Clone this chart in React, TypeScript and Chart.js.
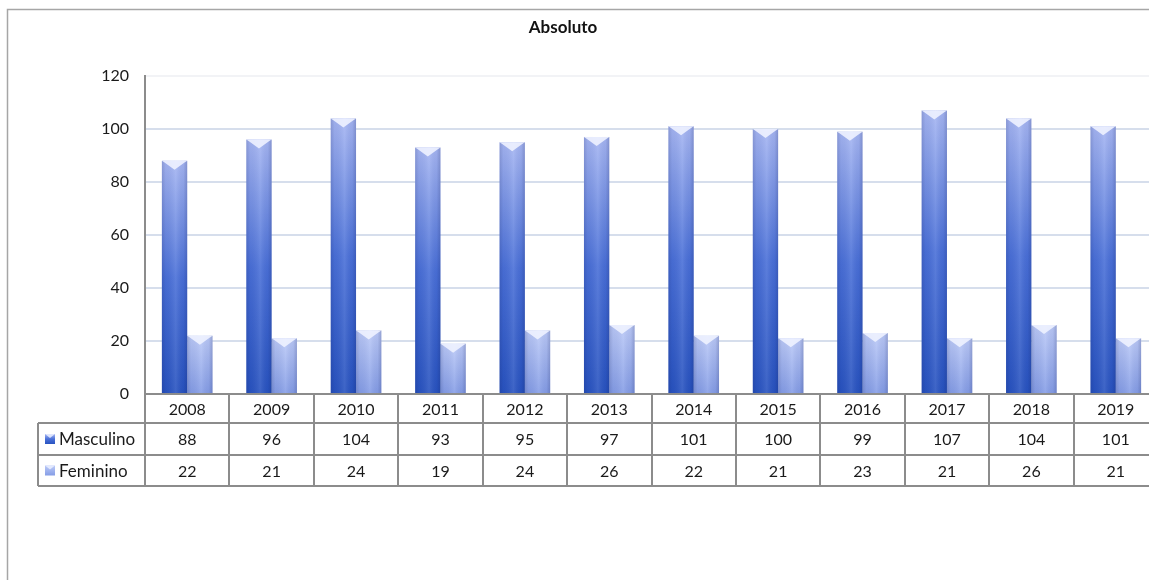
import React, { useEffect, useRef } from "react";
import { Chart, registerables } from "chart.js";

Chart.register(...registerables);

const years = ["2008", "2009", "2010", "2011", "2012", "2013", "2014", "2015", "2016", "2017", "2018", "2019"];
const masculino = [88, 96, 104, 93, 95, 97, 101, 100, 99, 107, 104, 101];
const feminino = [22, 21, 24, 19, 24, 26, 22, 21, 23, 21, 26, 21];
const seriesNames = ["Masculino", "Feminino"];
const title = "Absoluto";

const FONT = "Lato, 'Open Sans', sans-serif";
const W = 1165;
const H = 580;

function barGradient(c: any, stops: [number, string][], fallback: string) {
  const chart = c.chart;
  const { ctx, chartArea, scales } = chart;
  if (!chartArea || c.raw === undefined) return fallback;
  const yTop = scales.y.getPixelForValue(c.raw);
  const yBot = scales.y.getPixelForValue(0);
  if (!isFinite(yTop) || !isFinite(yBot) || yTop === yBot) return fallback;
  const g = ctx.createLinearGradient(0, yBot, 0, yTop);
  stops.forEach(([o, col]) => g.addColorStop(o, col));
  return g;
}

const mascStops: [number, string][] = [
  [0, "#2853c0"],
  [0.5, "#4a70d8"],
  [1, "#a6b6f2"],
];
const femStops: [number, string][] = [
  [0, "#859de6"],
  [1, "#bccaf7"],
];

const decorPlugin = {
  id: "decor",
  afterDatasetsDraw(chart: any) {
    const ctx = chart.ctx;
    chart.data.datasets.forEach((_: any, di: number) => {
      const meta = chart.getDatasetMeta(di);
      meta.data.forEach((bar: any) => {
        const p = bar.getProps(["x", "y", "base", "width"], true);
        const l = p.x - p.width / 2;
        const r = p.x + p.width / 2;
        const t = p.y;
        const b = p.base;
        ctx.save();
        const hg = ctx.createLinearGradient(l, 0, r, 0);
        hg.addColorStop(0, "rgba(10,20,80,0.18)");
        hg.addColorStop(0.15, "rgba(10,20,80,0.05)");
        hg.addColorStop(0.55, "rgba(255,255,255,0.10)");
        hg.addColorStop(0.85, "rgba(10,20,80,0.05)");
        hg.addColorStop(1, "rgba(10,20,80,0.22)");
        ctx.fillStyle = hg;
        ctx.fillRect(l, t, r - l, b - t);
        // top bevel
        const bev = 9;
        ctx.beginPath();
        ctx.moveTo(l, t);
        ctx.lineTo(r, t);
        ctx.lineTo(r - 3, t + 2);
        ctx.lineTo(p.x, t + bev);
        ctx.lineTo(l + 3, t + 2);
        ctx.closePath();
        ctx.fillStyle = "rgba(238,242,255,0.9)";
        ctx.fill();
        ctx.restore();
      });
    });
  },
  afterDraw(chart: any) {
    const ctx = chart.ctx;
    const area = chart.chartArea;
    const left = area.left;
    const right = area.right;
    const n = years.length;
    const colW = (right - left) / n;
    const y0 = area.bottom;
    const y1 = y0 + 29;
    const y2 = y1 + 32;
    const y3 = y2 + 31;
    const legL = 38;
    ctx.save();
    // frame
    ctx.strokeStyle = "#a6a6a6";
    ctx.lineWidth = 1.5;
    ctx.beginPath();
    ctx.moveTo(7.5, H);
    ctx.lineTo(7.5, 9.5);
    ctx.lineTo(W, 9.5);
    ctx.stroke();
    // title
    ctx.fillStyle = "#111";
    ctx.font = "bold 17px " + FONT;
    ctx.textAlign = "center";
    ctx.textBaseline = "middle";
    ctx.fillText(title, 563, 28);
    // table lines
    ctx.strokeStyle = "#8c8c8c";
    ctx.lineWidth = 2;
    ctx.beginPath();
    for (let i = 0; i <= n; i++) {
      const x = Math.round(left + i * colW);
      ctx.moveTo(x, y0);
      ctx.lineTo(x, y3);
    }
    [y1, y2, y3].forEach((y) => {
      ctx.moveTo(legL, y);
      ctx.lineTo(right, y);
    });
    ctx.moveTo(legL, y1);
    ctx.lineTo(legL, y3);
    ctx.stroke();
    // text
    ctx.fillStyle = "#1a1a1a";
    ctx.font = "16px " + FONT;
    ctx.textAlign = "center";
    ctx.textBaseline = "middle";
    const rows = [masculino, feminino];
    for (let i = 0; i < n; i++) {
      const cx = left + (i + 0.5) * colW;
      ctx.fillText(years[i], cx, (y0 + y1) / 2 + 1);
      ctx.fillText(String(rows[0][i]), cx, (y1 + y2) / 2 + 1);
      ctx.fillText(String(rows[1][i]), cx, (y2 + y3) / 2 + 1);
    }
    // legend keys
    const keyStops = [mascStops, femStops];
    ctx.font = "17px " + FONT;
    [y1, y2].forEach((yy, k) => {
      const cy = yy + (k === 0 ? 16 : 15.5);
      const g = ctx.createLinearGradient(0, cy + 5, 0, cy - 5);
      keyStops[k].forEach(([o, col]) => g.addColorStop(o, col));
      ctx.fillStyle = g;
      ctx.fillRect(45, cy - 5, 10, 10);
      ctx.fillStyle = "rgba(235,240,255,0.85)";
      ctx.beginPath();
      ctx.moveTo(45, cy - 5);
      ctx.lineTo(55, cy - 5);
      ctx.lineTo(50, cy - 1);
      ctx.closePath();
      ctx.fill();
      ctx.fillStyle = "#1a1a1a";
      ctx.textAlign = "left";
      ctx.fillText(seriesNames[k], 59, cy + 1);
    });
    ctx.restore();
  },
};

export default function App() {
  const ref = useRef<HTMLCanvasElement | null>(null);
  useEffect(() => {
    if (!ref.current) return;
    const chart = new Chart(ref.current, {
      type: "bar",
      data: {
        labels: years,
        datasets: [
          {
            label: seriesNames[0],
            data: masculino,
            backgroundColor: (c: any) => barGradient(c, mascStops, "#3f66d0"),
            borderWidth: 0,
          },
          {
            label: seriesNames[1],
            data: feminino,
            backgroundColor: (c: any) => barGradient(c, femStops, "#a0b2ef"),
            borderWidth: 0,
          },
        ],
      },
      options: {
        animation: false,
        responsive: false,
        maintainAspectRatio: false,
        devicePixelRatio: 1,
        layout: { padding: { left: 0, top: 76, right: 7, bottom: 0 } },
        datasets: { bar: { categoryPercentage: 0.6, barPercentage: 1.0 } },
        plugins: {
          legend: { display: false },
          tooltip: { enabled: false },
          title: { display: false },
        },
        scales: {
          x: {
            ticks: { display: false },
            grid: { display: false, drawTicks: false },
            border: { display: true, color: "#8c8c8c", width: 2 },
            afterFit: (s: any) => {
              s.height = H - 394;
            },
          },
          y: {
            min: 0,
            max: 120,
            ticks: {
              stepSize: 20,
              padding: 16,
              color: "#1a1a1a",
              font: { family: FONT, size: 16 },
            },
            grid: {
              drawTicks: false,
              color: (c: any) => (c.tick && c.tick.value === 120 ? "#f2f3f6" : "#d6deec"),
              lineWidth: 2,
            },
            border: { display: true, color: "#8c8c8c", width: 2 },
            afterFit: (s: any) => {
              s.width = 145;
            },
          },
        },
      },
      plugins: [decorPlugin],
    });
    return () => chart.destroy();
  }, []);
  return (
    <div
      style={{
        position: "fixed",
        left: 0,
        top: 0,
        width: 1149,
        height: 580,
        overflow: "hidden",
        background: "#fff",
      }}
    >
      <canvas ref={ref} width={W} height={H} style={{ width: W, height: H, display: "block" }} />
    </div>
  );
}
